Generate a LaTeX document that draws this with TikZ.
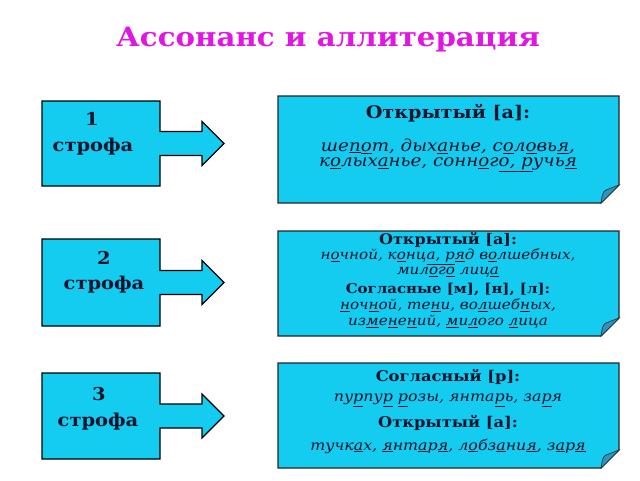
\documentclass[tikz,border=0pt]{standalone}
\usepackage{fontspec}
\setmainfont[FakeStretch=1.1]{DejaVu Serif}
\usetikzlibrary{calc}
\definecolor{boxcyan}{RGB}{20,204,240}
\definecolor{foldcyan}{RGB}{38,150,196}
\definecolor{titlemag}{RGB}{226,22,226}
\definecolor{inkblue}{RGB}{10,20,45}
\newcommand{\und}[1]{\underline{#1}}
\tikzset{
  callout/.style={draw=black, fill=boxcyan, line width=1.2pt, line join=miter},
  notebox/.style={draw=black!85, fill=boxcyan, line width=1.1pt},
  head/.style={inner sep=0pt, text=inkblue, font=\bfseries\fontsize{#1}{#1}\selectfont},
  verse/.style={inner sep=0pt, text=inkblue, font=\itshape\fontsize{#1}{#1}\selectfont},
  strofa/.style={inner sep=0pt, text=inkblue, font=\bfseries\fontsize{17.7}{17.7}\selectfont}
}

\begin{document}
\begin{tikzpicture}[x=1pt, y=-1pt]
    \useasboundingbox (0,0) rectangle (640,480);

    % Title
    \node[inner sep=0pt, text=titlemag, font=\bfseries\fontsize{26.6}{26.6}\selectfont] (title) at (328,40) {Ассонанс и аллитерация};

    % Left boxes with arrows (top/bottom of each box)
    \foreach \t/\b in {101/186, 239/326, 373/459} {
        \pgfmathsetmacro{\c}{(\t+\b)/2}
        \draw[callout] (42,\t) -- (160,\t) -- (160,\c-12) -- (202,\c-12) -- (202,\c-22)
            -- (224,\c) -- (202,\c+22) -- (202,\c+12) -- (160,\c+12) -- (160,\b) -- (42,\b) -- cycle;
    }
    \node[strofa] (n1) at (92,119) {1};
    \node[strofa] (s1) at (93,147) {строфа};
    \node[strofa] (n2) at (104,258) {2};
    \node[strofa] (s2) at (104,285) {строфа};
    \node[strofa] (n3) at (99,394) {3};
    \node[strofa] (s3) at (98,422) {строфа};

    % Right boxes with folded corner
    \foreach \t/\b in {96/203, 231/336, 363/468} {
        \draw[notebox] (278,\t) -- (619,\t) -- (619,\b-18) -- (601,\b) -- (278,\b) -- cycle;
        \filldraw[fill=foldcyan, draw=black!80, line width=0.7pt] (601,\b)
            .. controls (602,\b-7) and (603,\b-12) .. (606,\b-13) -- (619,\b-18) -- cycle;
    }

    % Stanza 1
    \node[head=17.4] (h1) at (448,113) {Открытый [а]:};
    \node[verse=16.6] (v11) at (448,146) {ше\und{п}\und{о}т, дых\und{а}нье, с\und{о}л\und{о}вь\und{я},};
    \node[verse=16.6] (v12) at (448,164.5) {к\und{о}лых\und{а}нье, сонн\und{о}г\und{о, р}учь\und{я}};

    % Stanza 2
    \node[head=14.6] (h21) at (448,240) {Открытый [а]:};
    \node[verse=13.8] (v21) at (448,256.5) {н\und{о}чной, к\und{о}нц\und{а, р}\und{я}д в\und{о}лшебных,};
    \node[verse=13.8] (v22) at (448,272.5) {мил\und{о}г\und{о} лиц\und{а}};
    \node[head=13.6] (h22) at (448,289) {Согласные [м], [н], [л]:};
    \node[verse=13.8] (v23) at (448,305.5) {\und{н}оч\und{н}ой, те\und{н}и, во\und{л}шеб\und{н}ых,};
    \node[verse=13.8] (v24) at (448,322) {из\und{м}е\und{н}е\und{н}ий, \und{м}и\und{л}ого \und{л}ица};

    % Stanza 3
    \node[head=14.8] (h31) at (448,377) {Согласный [р]:};
    \node[verse=14.4] (v31) at (448,400) {пу\und{р}пу\und{р} \und{р}озы, янта\und{р}ь, за\und{р}я};
    \node[head=14.8] (h32) at (448,423) {Открытый [а]:};
    \node[verse=14.4] (v32) at (448,446) {тучк\und{а}х, \und{я}нт\und{а}р\und{я}, л\und{о}бз\und{а}ни\und{я}, з\und{а}р\und{я}};
\end{tikzpicture}
\end{document}
